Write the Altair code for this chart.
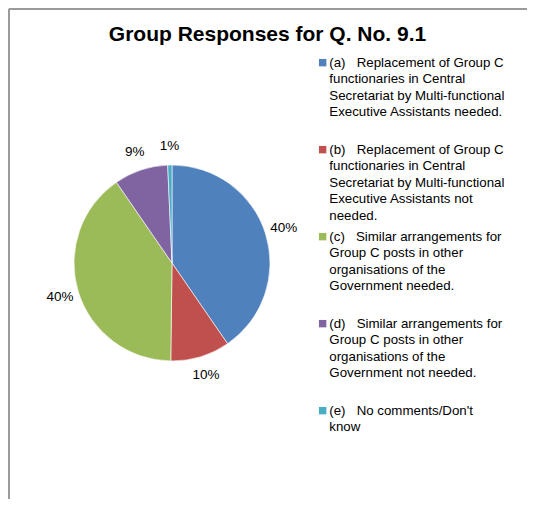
import altair as alt
import pandas as pd

# ---- data ----
legend_lines = [
    ["(a)\u00a0\u00a0\u00a0Replacement of Group C", "functionaries in Central",
     "Secretariat by Multi-functional", "Executive Assistants needed."],
    ["(b)\u00a0\u00a0\u00a0Replacement of Group C", "functionaries in Central",
     "Secretariat by Multi-functional", "Executive Assistants not", "needed."],
    ["(c)\u00a0\u00a0\u00a0Similar arrangements for", "Group C posts in other",
     "organisations of the", "Government needed."],
    ["(d)\u00a0\u00a0\u00a0Similar arrangements for", "Group C posts in other",
     "organisations of the", "Government not needed."],
    ["(e)\u00a0\u00a0\u00a0No comments/Don't", "know"],
]
shares = [40.4, 9.8, 40.2, 8.9, 0.7]
colors = ["#4F81BD", "#C0504D", "#9BBB59", "#8064A2", "#4BACC6"]
title_text = "Group Responses for Q. No. 9.1"

# pad every legend entry to 5 lines so entries are evenly spaced
keys = ["|".join(lines + [""] * (5 - len(lines))) for lines in legend_lines]
df = pd.DataFrame({"key": keys, "share": shares})

FONT = "Liberation Sans"
CX, CY, R = 164, 255, 98

base = alt.Chart(df).transform_calculate(
    pct="format(datum.share / 100, '.0%')"
)

pie = base.mark_arc(radius=R, stroke="white", strokeWidth=0.6).encode(
    theta=alt.Theta("share:Q", stack=True),
    order=alt.Order("key:N"),
    x=alt.value(CX),
    y=alt.value(CY),
    color=alt.Color(
        "key:N",
        scale=alt.Scale(domain=keys, range=colors),
        legend=alt.Legend(
            title=None,
            orient="none",
            legendX=308,
            legendY=48,
            padding=0,
            symbolType="square",
            symbolSize=55,
            symbolStrokeWidth=0,
            labelExpr="split(datum.label, '|')",
            labelFont=FONT,
            labelFontSize=13.3,
            labelColor="#000000",
            labelLimit=400,
            labelOffset=0,
            labelBaseline="middle",
            rowPadding=7,
        ),
    ),
)

labels = base.mark_text(radius=117, font=FONT, fontSize=13.5, color="#000000").encode(
    theta=alt.Theta("share:Q", stack=True),
    order=alt.Order("key:N"),
    detail="key:N",
    x=alt.value(CX),
    y=alt.value(CY),
    text="pct:N",
)

frame_df = pd.DataFrame({"k": [0]})
left_rule = alt.Chart(frame_df).mark_rule(color="#9A9A9A", strokeWidth=2).encode(
    x=alt.value(1), y=alt.value(1), y2=alt.value(491)
)
top_rule = alt.Chart(frame_df).mark_rule(color="#9A9A9A", strokeWidth=2).encode(
    x=alt.value(1), x2=alt.value(519), y=alt.value(1)
)

chart = alt.layer(left_rule, top_rule, pie, labels).properties(
    width=519,
    height=491,
    padding=0,
    autosize=alt.AutoSizeParams(type="none"),
    title=alt.Title(title_text, font=FONT, fontSize=21, fontWeight="bold",
                    color="#000000", anchor="middle", dy=41),
).configure_view(stroke=None).configure(
    style={"guide-label": {"lineHeight": 16.5}}
)

chart.save("out.html", embed_options={"renderer": "svg", "actions": False})
